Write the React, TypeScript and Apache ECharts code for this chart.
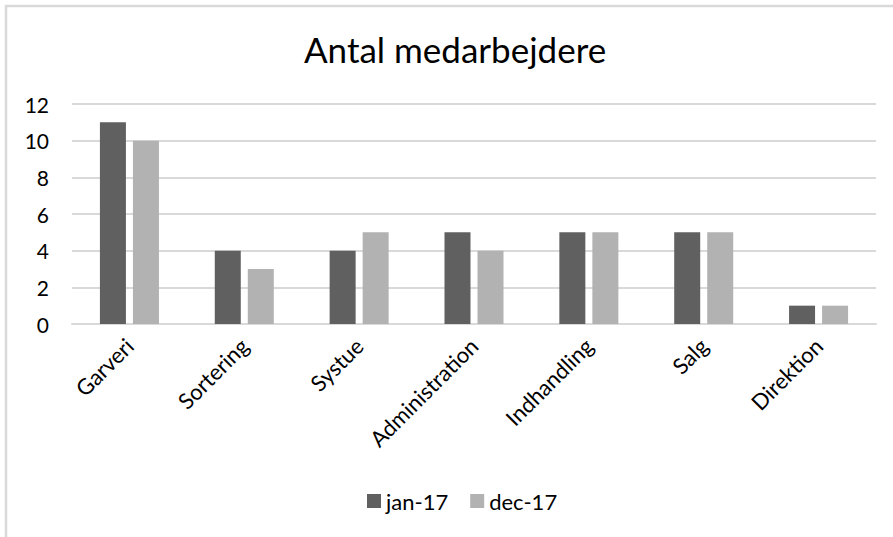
import React, { useEffect, useRef } from "react";
import * as echarts from "echarts";

const categories = ["Garveri", "Sortering", "Systue", "Administration", "Indhandling", "Salg", "Direktion"];
const jan17 = [11, 4, 4, 5, 5, 5, 1];
const dec17 = [10, 3, 5, 4, 5, 5, 1];
const seriesNames = ["jan-17", "dec-17"];
const titleText = "Antal medarbejdere";

const FONT = "Lato, 'Noto Sans', sans-serif";

export default function App() {
  const ref = useRef<HTMLDivElement>(null);
  useEffect(() => {
    if (!ref.current) return;
    const chart = echarts.init(ref.current, undefined, { renderer: "svg" });
    chart.setOption({
      animation: false,
      backgroundColor: "#ffffff",
      title: {
        text: titleText,
        left: 299,
        top: 26,
        textStyle: { fontFamily: FONT, fontSize: 35, fontWeight: "normal", color: "#000000" },
      },
      legend: {
        bottom: 20,
        left: 362,
        itemWidth: 14,
        itemHeight: 14,
        itemGap: 22,
        icon: "rect",
        textStyle: { fontFamily: FONT, fontSize: 22, color: "#000000" },
        data: seriesNames,
      },
      grid: { left: 72, right: 17, top: 104, bottom: 213, containLabel: false },
      xAxis: {
        type: "category",
        data: categories,
        axisLine: { show: true, lineStyle: { color: "#d9d9d9", width: 2 } },
        axisTick: { show: false },
        axisLabel: {
          rotate: 45,
          interval: 0,
          margin: 18,
          fontFamily: FONT,
          fontSize: 22,
          color: "#000000",
        },
      },
      yAxis: {
        type: "value",
        min: 0,
        max: 12,
        interval: 2,
        axisLine: { show: false },
        axisTick: { show: false },
        splitLine: { lineStyle: { color: "#d9d9d9", width: 2 } },
        axisLabel: { fontFamily: FONT, fontSize: 21, color: "#000000", margin: 23 },
      },
      series: [
        {
          name: seriesNames[0],
          type: "bar",
          data: jan17,
          barWidth: 26,
          barGap: "27%",
          itemStyle: { color: "#606060" },
        },
        {
          name: seriesNames[1],
          type: "bar",
          data: dec17,
          barWidth: 26,
          itemStyle: { color: "#b2b2b2" },
        },
      ],
      graphic: [
        {
          type: "polyline",
          silent: true,
          shape: { points: [[6, 540], [6, 6], [900, 6]] },
          style: { stroke: "#d9d9d9", lineWidth: 2.5, fill: "none" },
        },
      ],
    });
    return () => chart.dispose();
  }, []);
  return (
    <div
      ref={ref}
      style={{ position: "fixed", left: 0, top: 0, width: 893, height: 537 }}
    />
  );
}
